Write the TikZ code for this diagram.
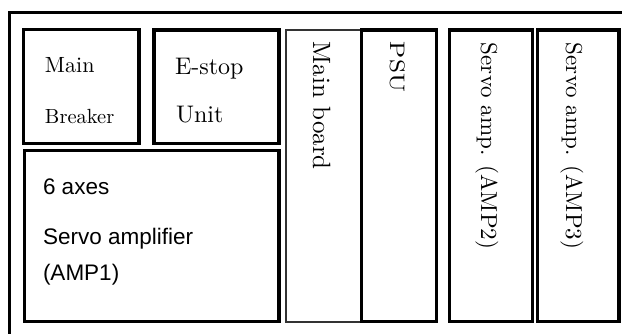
\documentclass[tikz,border=0pt]{standalone}
\usepackage{fontspec}
\setmainfont{lmroman10-regular.otf}
\newfontfamily\gothic{Liberation Sans}
\begin{document}
\begin{tikzpicture}[x=1pt,y=-1pt,
  box/.style={draw=black,line width=3.2pt,inner sep=0pt,outer sep=0pt},
  thinbox/.style={draw=black!80,line width=2pt,inner sep=0pt,outer sep=0pt},
  lbl/.style={inner sep=0pt,outer sep=0pt,anchor=base west},
  vlbl/.style={inner sep=0pt,outer sep=0pt,anchor=base west,rotate=-90}]
\useasboundingbox (0,0) rectangle (622,334);
\clip (0,0) rectangle (622,334);
\fill[white] (0,0) rectangle (622,334);
% outer frame (continues beyond right and bottom)
\node[draw=black,line width=3.2pt,inner sep=0pt,minimum width=640pt,minimum height=360pt,anchor=north west] (frame) at (7.5,11) {};
% boxes
\node[box,minimum width=115.5pt,minimum height=114pt] (brk) at (81.25,86.5) {};
\node[box,minimum width=125pt,minimum height=113.5pt] (estop) at (216.5,86.75) {};
\node[box,minimum width=254.5pt,minimum height=171pt] (amp1) at (151.75,236) {};
\node[thinbox,minimum width=76pt,minimum height=291.5pt] (mainb) at (323.5,175.75) {};
\node[box,minimum width=75pt,minimum height=291.5pt] (psu) at (399,175.75) {};
\node[box,minimum width=83pt,minimum height=291.5pt] (amp2) at (491,175.75) {};
\node[box,minimum width=81.5pt,minimum height=291.5pt] (amp3) at (578.25,175.75) {};
% horizontal labels
\node[lbl] (tmain) at (45,73) {\fontsize{22}{26}\selectfont Main};
\node[lbl] (tbrk) at (45,124) {\fontsize{20.5}{24}\selectfont Breaker};
\node[lbl] (testop) at (175,75) {\fontsize{24}{28}\selectfont E-stop};
\node[lbl] (tunit) at (176,123) {\fontsize{24}{28}\selectfont Unit};
\node[lbl] (tax) at (43,195) {\gothic\fontsize{22.5}{27}\selectfont 6 axes};
\node[lbl] (tsa) at (43,244) {\gothic\fontsize{22.5}{27}\selectfont Servo amplifier};
\node[lbl] (tamp1) at (43,280) {\gothic\fontsize{22.5}{27}\selectfont (AMP1)};
% vertical labels
\node[vlbl] (tmb) at (313,42) {\fontsize{25}{29}\selectfont Main board};
\node[vlbl] (tpsu) at (390,42) {\fontsize{21}{25}\selectfont\scalebox{1.2}[1]{PSU}};
\node[vlbl] (ta2) at (481,43) {\fontsize{23}{27}\selectfont Servo amp. (AMP2)};
\node[vlbl] (ta3) at (566,43) {\fontsize{23}{27}\selectfont Servo amp. (AMP3)};
\end{tikzpicture}
\end{document}
